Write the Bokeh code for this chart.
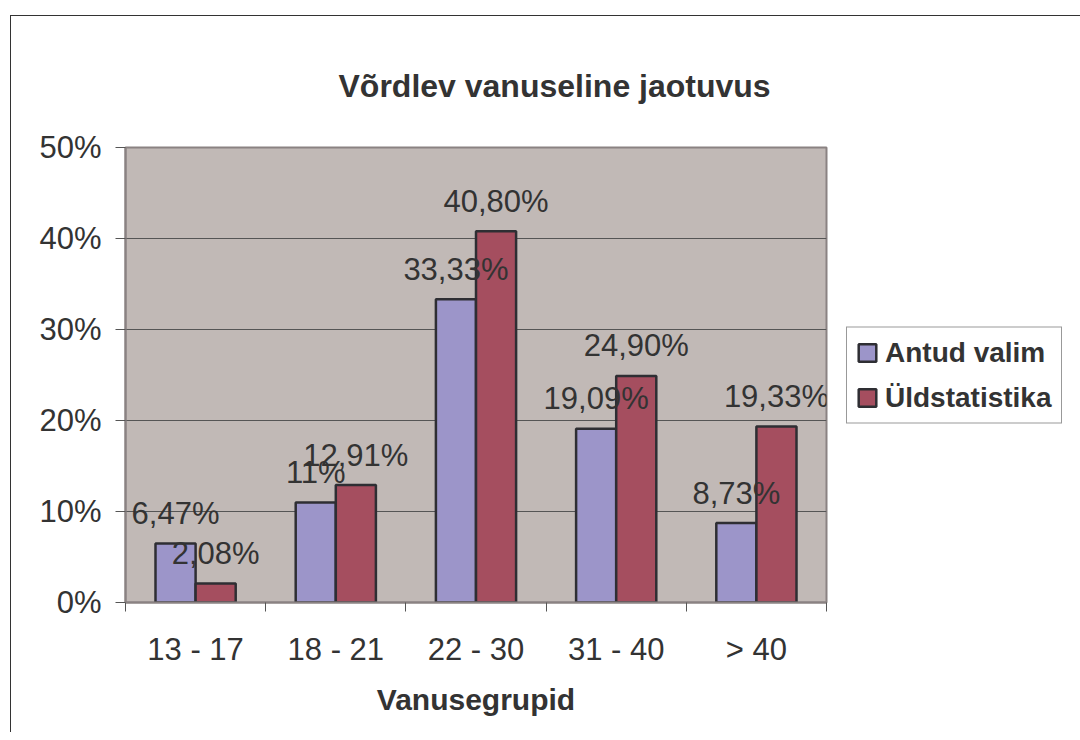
from bokeh.plotting import figure
from bokeh.models import ColumnDataSource, FixedTicker, Legend, LegendItem, Range1d
from bokeh.core.properties import value
from bokeh.embed import file_html
from bokeh.resources import INLINE

categories = ["13 - 17", "18 - 21", "22 - 30", "31 - 40", "> 40"]
antud_valim = [0.0647, 0.11, 0.3333, 0.1909, 0.0873]
uldstatistika = [0.0208, 0.1291, 0.4080, 0.2490, 0.1933]
antud_labels = ["6,47%", "11%", "33,33%", "19,09%", "8,73%"]
uld_labels = ["2,08%", "12,91%", "40,80%", "24,90%", "19,33%"]
y_ticks = [0.0, 0.1, 0.2, 0.3, 0.4, 0.5]
y_tick_labels = ["0%", "10%", "20%", "30%", "40%", "50%"]
series_names = ["Antud valim", "Üldstatistika"]
chart_title = "Võrdlev vanuseline jaotuvus"

FONT = "Liberation Sans"
TXT = "#333333"
BLUE = "#9C95C9"
RED = "#A54E5F"
BG = "#C1B9B6"

bar_w = 0.286
centers = [i + 0.5 for i in range(len(categories))]
src_a = ColumnDataSource(dict(x=[c - bar_w / 2 for c in centers], top=antud_valim, lab=antud_labels))
src_u = ColumnDataSource(dict(x=[c + bar_w / 2 for c in centers], top=uldstatistika, lab=uld_labels))

p = figure(frame_width=701, frame_height=455, output_backend="svg", toolbar_location=None,
           x_range=Range1d(0, len(categories)), y_range=Range1d(0, 0.5),
           min_border_left=114, min_border_right=252, min_border_top=131, min_border_bottom=130)
p.styles = {"margin-left": "10px", "margin-top": "15px",
            "border-left": "1px solid #333333", "border-top": "1px solid #333333"}
p.background_fill_color = BG
p.border_fill_color = "white"
p.outline_line_color = "#8a8282"
p.outline_line_width = 2

ra = p.vbar(x="x", top="top", width=bar_w, source=src_a, fill_color=BLUE, line_color="#2e2e33", line_width=2.5)
ru = p.vbar(x="x", top="top", width=bar_w, source=src_u, fill_color=RED, line_color="#2e2e33", line_width=2.5)

for src in (src_a, src_u):
    p.text(x="x", y="top", text="lab", source=src, text_align="center", text_baseline="middle",
           y_offset=-30, text_font=value(FONT), text_font_size="31px", text_color=TXT)

# axes
p.xaxis.ticker = FixedTicker(ticks=centers, minor_ticks=list(range(len(categories) + 1)))
p.xaxis.major_label_overrides = {c: cat for c, cat in zip(centers, categories)}
p.xaxis.major_tick_line_color = None
p.xaxis.minor_tick_line_color = "#555555"
p.xaxis.minor_tick_out = 9
p.xaxis.minor_tick_in = 0
p.xaxis.axis_line_color = "#8a8282"
p.xaxis.axis_line_width = 2
p.xaxis.major_label_standoff = 20
p.xaxis.major_label_text_font = FONT
p.xaxis.major_label_text_font_size = "31px"
p.xaxis.major_label_text_color = TXT
p.xaxis.axis_label = "Vanusegrupid"
p.xaxis.axis_label_text_font = FONT
p.xaxis.axis_label_text_font_size = "30px"
p.xaxis.axis_label_text_font_style = "bold"
p.xaxis.axis_label_text_color = TXT
p.xaxis.axis_label_standoff = 13

p.yaxis.ticker = FixedTicker(ticks=y_ticks, minor_ticks=[])
p.yaxis.major_label_overrides = {t: l for t, l in zip(y_ticks, y_tick_labels)}
p.yaxis.major_tick_line_color = "#555555"
p.yaxis.major_tick_out = 10
p.yaxis.major_tick_in = 0
p.yaxis.axis_line_color = "#8a8282"
p.yaxis.axis_line_width = 2
p.yaxis.major_label_standoff = 14
p.yaxis.major_label_text_font = FONT
p.yaxis.major_label_text_font_size = "31px"
p.yaxis.major_label_text_color = TXT

p.xgrid.grid_line_color = None
p.ygrid.grid_line_color = "#555555"
p.ygrid.grid_line_width = 1

# title
p.title.text = chart_title
p.title.align = "left"
p.title.offset = 213
p.title.vertical_align = "bottom"
p.title.standoff = 88
p.title.text_font = FONT
p.title.text_font_size = "32px"
p.title.text_font_style = "bold"
p.title.text_color = TXT

legend = Legend(items=[LegendItem(label=series_names[0], renderers=[ra]),
                       LegendItem(label=series_names[1], renderers=[ru])],
                location="center_left", orientation="vertical")
legend.label_text_font = FONT
legend.label_text_font_size = "28px"
legend.label_text_font_style = "bold"
legend.label_text_color = TXT
legend.glyph_width = 22
legend.glyph_height = 22
legend.label_height = 32
legend.spacing = 13
legend.padding = 9
legend.margin = 20
legend.label_standoff = 7
legend.border_line_color = "#333333"
legend.border_line_width = 1.5
legend.background_fill_color = "white"
legend.background_fill_alpha = 1
p.add_layout(legend, "right")

open("out.html", "w").write(file_html(p, INLINE))
